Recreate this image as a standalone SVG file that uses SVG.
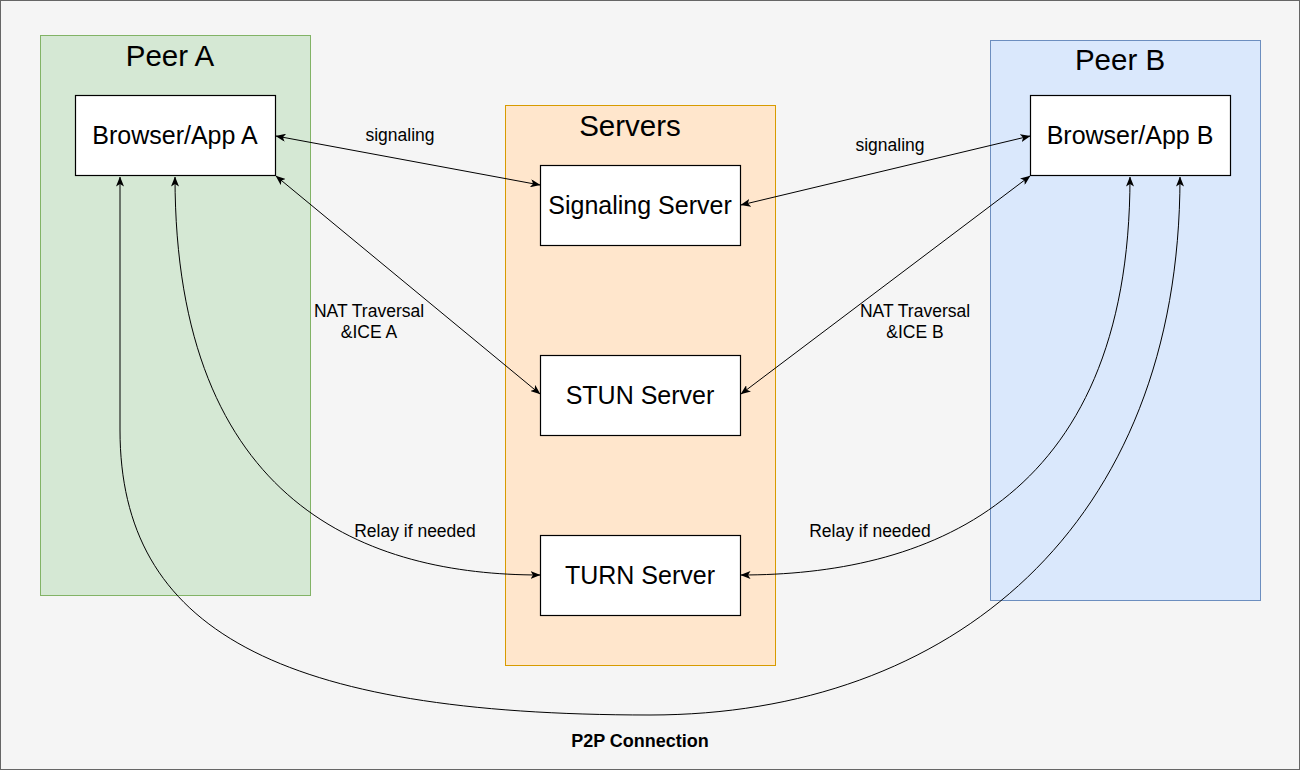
<svg xmlns="http://www.w3.org/2000/svg" width="1301" height="777" viewBox="0 0 1301 777">
<defs>
<style>
.frame{fill:#f5f5f5;stroke:#666666;stroke-width:1}
.node{fill:#ffffff;stroke:#000000;stroke-width:1.2}
.title{font-family:"Liberation Sans",Arial,sans-serif;font-size:29.5px;fill:#000;text-anchor:middle}
.ntext{font-family:"Liberation Sans",Arial,sans-serif;font-size:25px;fill:#000;text-anchor:middle}
.elabel{font-family:"Liberation Sans",Arial,sans-serif;font-size:17.5px;fill:#000;text-anchor:middle}
.bold{font-weight:bold;font-size:18px}
.edge{fill:none;stroke:#000;stroke-width:1;marker-start:url(#arr);marker-end:url(#arr)}
</style>
<marker id="arr" viewBox="0 0 10 8" refX="9.5" refY="4" markerWidth="10" markerHeight="8" markerUnits="userSpaceOnUse" orient="auto-start-reverse">
<path d="M0,0 L10,4 L0,8 L2.5,4 Z" fill="#000"/>
</marker>
</defs>
<rect x="0" y="0" width="1301" height="777" fill="#ffffff"/>
<rect class="frame" x="0.5" y="0.5" width="1299" height="769"/>

<g id="peerA">
<rect x="40.5" y="35.5" width="270" height="560" fill="#d5e8d4" stroke="#82b366"/>
<text class="title" x="170" y="66">Peer A</text>
</g>
<g id="servers">
<rect x="505.5" y="105.5" width="270" height="560" fill="#ffe6cc" stroke="#d79b00"/>
<text class="title" x="630" y="136">Servers</text>
</g>
<g id="peerB">
<rect x="990.5" y="40.5" width="270" height="560" fill="#dae8fc" stroke="#6c8ebf"/>
<text class="title" x="1120" y="70">Peer B</text>
</g>

<g id="browserA">
<rect class="node" x="75.5" y="95.5" width="200" height="80"/>
<text class="ntext" x="175" y="144">Browser/App A</text>
</g>
<g id="browserB">
<rect class="node" x="1030.5" y="95.5" width="200" height="80"/>
<text class="ntext" x="1130" y="144">Browser/App B</text>
</g>
<g id="signalingServer">
<rect class="node" x="540.5" y="165.5" width="200" height="80"/>
<text class="ntext" x="640" y="214">Signaling Server</text>
</g>
<g id="stunServer">
<rect class="node" x="540.5" y="355.5" width="200" height="80"/>
<text class="ntext" x="640" y="404">STUN Server</text>
</g>
<g id="turnServer">
<rect class="node" x="540.5" y="535.5" width="200" height="80"/>
<text class="ntext" x="640" y="584">TURN Server</text>
</g>

<g id="connectors">
<path class="edge" d="M276,136 L540,185"/>
<path class="edge" d="M741,205 L1030,136"/>
<path class="edge" d="M276,176 L540,394"/>
<path class="edge" d="M741,394 L1030,176"/>
<path class="edge" d="M175,177 C175,507 370,575 540,575"/>
<path class="edge" d="M1130,177 C1130,507 920,575 741,575"/>
<path class="edge" d="M120,177 L120,430 C120,630 279,715 650,715 C950,715 1180,527 1180,177"/>
<text class="elabel" x="400" y="141">signaling</text>
<text class="elabel" x="890" y="151">signaling</text>
<text class="elabel" x="369" y="317">NAT Traversal</text>
<text class="elabel" x="369" y="338">&amp;ICE A</text>
<text class="elabel" x="915" y="317">NAT Traversal</text>
<text class="elabel" x="915" y="338">&amp;ICE B</text>
<text class="elabel" x="415" y="537">Relay if needed</text>
<text class="elabel" x="870" y="537">Relay if needed</text>
<text class="elabel bold" x="640" y="747">P2P Connection</text>
</g>
</svg>
